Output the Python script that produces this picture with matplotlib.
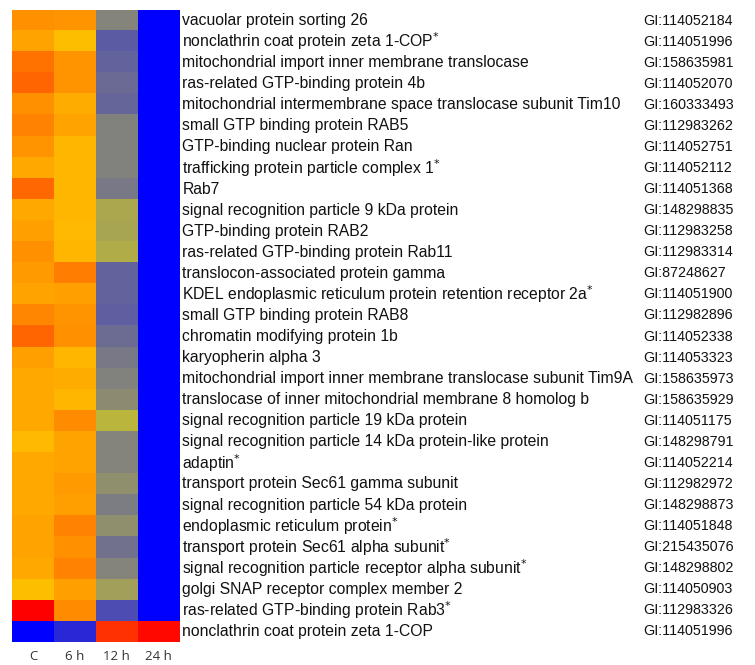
import numpy as np
import matplotlib
matplotlib.use("Agg")
import matplotlib.pyplot as plt
from matplotlib.colors import LinearSegmentedColormap

plt.rcParams['font.family'] = ['Liberation Sans', 'DejaVu Sans']
plt.rcParams['mathtext.fontset'] = 'custom'
plt.rcParams['mathtext.rm'] = 'DejaVu Sans'
plt.rcParams['mathtext.it'] = 'DejaVu Sans'

# time points
timepoints = ["C", "6 h", "12 h", "24 h"]

# protein names (asterisk marks given separately)
proteins = [
    "vacuolar protein sorting 26",
    "nonclathrin coat protein zeta 1-COP",
    "mitochondrial import inner membrane translocase",
    "ras-related GTP-binding protein 4b",
    "mitochondrial intermembrane space translocase subunit Tim10",
    "small GTP binding protein RAB5",
    "GTP-binding nuclear protein Ran",
    "trafficking protein particle complex 1",
    "Rab7",
    "signal recognition particle 9 kDa protein",
    "GTP-binding protein RAB2",
    "ras-related GTP-binding protein Rab11",
    "translocon-associated protein gamma",
    "KDEL endoplasmic reticulum protein retention receptor 2a",
    "small GTP binding protein RAB8",
    "chromatin modifying protein 1b",
    "karyopherin alpha 3",
    "mitochondrial import inner membrane translocase subunit Tim9A",
    "translocase of inner mitochondrial membrane 8 homolog b",
    "signal recognition particle 19 kDa protein",
    "signal recognition particle 14 kDa protein-like protein",
    "adaptin",
    "transport protein Sec61 gamma subunit",
    "signal recognition particle 54 kDa protein",
    "endoplasmic reticulum protein",
    "transport protein Sec61 alpha subunit",
    "signal recognition particle receptor alpha subunit",
    "golgi SNAP receptor complex member 2",
    "ras-related GTP-binding protein Rab3",
    "nonclathrin coat protein zeta 1-COP",
]
starred = [0, 1, 0, 0, 0, 0, 0, 1, 0, 0, 0, 0, 0, 1, 0,
           0, 0, 0, 0, 0, 0, 1, 0, 0, 1, 1, 1, 0, 1, 0]

gi_ids = [
    "114052184", "114051996", "158635981", "114052070", "160333493",
    "112983262", "114052751", "114052112", "114051368", "148298835",
    "112983258", "112983314", "87248627", "114051900", "112982896",
    "114052338", "114053323", "158635973", "158635929", "114051175",
    "148298791", "114052214", "112982972", "148298873", "114051848",
    "215435076", "148298802", "114050903", "112983326", "114051996",
]

# relative expression (0 = low/blue, 1 = high/red)
expr_C   = [0.66, 0.61, 0.73, 0.76, 0.66, 0.69, 0.65, 0.60, 0.75, 0.60,
            0.62, 0.66, 0.63, 0.61, 0.68, 0.76, 0.62, 0.60, 0.60, 0.60,
            0.56, 0.60, 0.60, 0.60, 0.61, 0.61, 0.60, 0.55, 1.00, 0.00]
expr_6h  = [0.65, 0.55, 0.65, 0.65, 0.59, 0.61, 0.57, 0.57, 0.57, 0.57,
            0.56, 0.57, 0.70, 0.62, 0.65, 0.66, 0.57, 0.59, 0.57, 0.67,
            0.61, 0.61, 0.63, 0.62, 0.69, 0.66, 0.69, 0.62, 0.67, 0.11]
expr_12h = [0.36, 0.25, 0.27, 0.29, 0.28, 0.355, 0.355, 0.355, 0.33, 0.44,
            0.43, 0.45, 0.27, 0.27, 0.26, 0.30, 0.33, 0.355, 0.375, 0.47,
            0.36, 0.36, 0.385, 0.34, 0.385, 0.31, 0.36, 0.42, 0.21, 0.88]
expr_24h = [0.0] * 29 + [0.98]

data = np.array([expr_C, expr_6h, expr_12h, expr_24h]).T

cmap = LinearSegmentedColormap.from_list("bgyr", [
    (0.0, "#0000ff"),
    (0.35, "#808080"),
    (0.5, "#c8c32d"),
    (0.55, "#ffbe00"),
    (1.0, "#ff0000"),
])

fig = plt.figure(figsize=(7.55, 6.65), dpi=100)
ax = fig.add_axes([0.016, 0.0346, 0.222, 0.9504])
ax.imshow(data, cmap=cmap, vmin=0, vmax=1, aspect='auto', interpolation='nearest')
ax.set_xticks(range(len(timepoints)))
ax.set_xticklabels(timepoints, fontsize=9.5, color='#333333', family='Open Sans')
ax.tick_params(axis='x', length=0, pad=6)
ax.set_yticks([])
for s in ax.spines.values():
    s.set_visible(False)

# row labels
for i, (name, star, gi) in enumerate(zip(proteins, starred, gi_ids)):
    label = name + (r"$^{*}$" if star else "")
    ax.annotate(label, xy=(1.0, 1 - (i + 0.5) / len(proteins)), xycoords='axes fraction',
                xytext=(2, 0), textcoords='offset points', ha='left', va='center',
                fontsize=11.3, color='#111111')
    fig.text(643 / 755, 1 - (10 + (i + 0.5) * 632 / 30) / 665, "GI:" + gi,
             ha='left', va='center', fontsize=10.3, color='#111111')

fig.savefig("out.png", dpi=100)
